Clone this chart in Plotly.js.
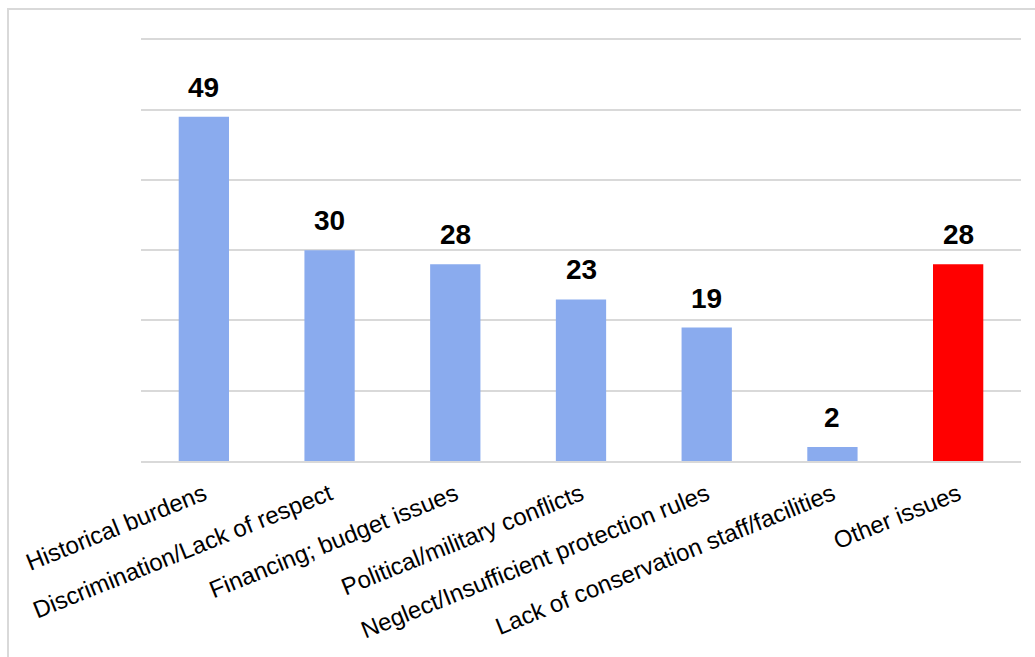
<!DOCTYPE html>
<html>
<head>
<meta charset="utf-8">
<script src="https://cdn.plot.ly/plotly-3.0.1.min.js"></script>
<style>
html,body{margin:0;padding:0;background:#fff;}
#wrap{position:relative;width:1035px;height:657px;overflow:hidden;}
#chart{position:absolute;left:0;top:0;width:1035px;height:657px;}
#frame{position:absolute;left:7px;top:8px;width:1040px;height:660px;border:2px solid #d9d9d9;pointer-events:none;box-sizing:border-box;}
</style>
</head>
<body>
<div id="wrap">
<div id="chart"></div>
<div id="frame"></div>
</div>
<script>
const categories = [
  "Historical burdens",
  "Discrimination/Lack of respect",
  "Financing; budget issues",
  "Political/military conflicts",
  "Neglect/Insufficient protection rules",
  "Lack of conservation staff/facilities",
  "Other issues"
];
const values = [49, 30, 28, 23, 19, 2, 28];
const barColors = ["#8aabee", "#8aabee", "#8aabee", "#8aabee", "#8aabee", "#8aabee", "#ff0000"];

const trace = {
  type: "bar",
  x: categories,
  y: values,
  marker: {color: barColors},
  hoverinfo: "x+y"
};

const annotations = categories.map((c, i) => ({
  x: c,
  y: values[i],
  xref: "x",
  yref: "y",
  text: "<b>" + String(values[i]) + "</b>",
  showarrow: false,
  yanchor: "bottom",
  yshift: 12,
  font: {family: "Liberation Sans, Arial, sans-serif", size: 28, color: "#000"}
}));

const layout = {
  width: 1035,
  height: 657,
  margin: {l: 141, r: 14, t: 38, b: 196},
  paper_bgcolor: "rgba(0,0,0,0)",
  plot_bgcolor: "rgba(0,0,0,0)",
  bargap: 0.6,
  showlegend: false,
  font: {family: "Liberation Sans, Arial, sans-serif", color: "#000"},
  xaxis: {
    type: "category",
    tickangle: -22,
    tickfont: {family: "Liberation Sans, Arial, sans-serif", size: 24, color: "#000"},
    ticklabelstandoff: 8,
    showline: true,
    linecolor: "#d9d9d9",
    linewidth: 2,
    ticks: "",
    showgrid: false,
    automargin: false
  },
  yaxis: {
    range: [0, 60.2],
    tickvals: [10, 20, 30, 40, 50, 60],
    showticklabels: false,
    showgrid: true,
    gridcolor: "#d9d9d9",
    gridwidth: 2,
    zeroline: false,
    ticks: "",
    automargin: false
  },
  annotations: annotations
};

Plotly.newPlot("chart", [trace], layout, {displayModeBar: false, staticPlot: true});
</script>
</body>
</html>
